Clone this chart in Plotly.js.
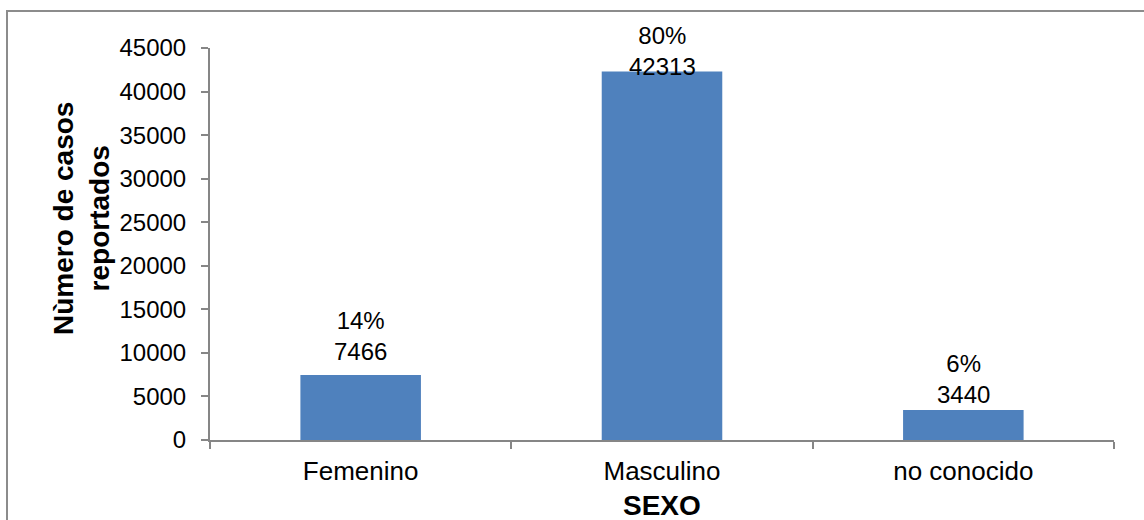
<!DOCTYPE html>
<html>
<head>
<meta charset="utf-8">
<script src="https://cdn.plot.ly/plotly-3.0.1.min.js"></script>
<style>html,body{margin:0;padding:0;background:#fff;}#chart{width:1144px;height:520px;}</style>
</head>
<body>
<div id="chart"></div>
<script>
const categories = ["Femenino", "Masculino", "no conocido"];
const casos = [7466, 42313, 3440];
const porcentajes = ["14%", "80%", "6%"];
const yTickValues = [0, 5000, 10000, 15000, 20000, 25000, 30000, 35000, 40000, 45000];
const yTickLabels = ["0", "5000", "10000", "15000", "20000", "25000", "30000", "35000", "40000", "45000"];

const labelShift = [8, -11, 0];
const FONT = "Arial, 'Liberation Sans', sans-serif";

const W = 1144, H = 520, ML = 210, MR = 30, MT = 48, MB = 80;
const PW = W - ML - MR, PH = H - MT - MB;
const px2x = p => (p - ML) / PW;
const py2y = p => (H - MB - p) / PH;

const annotations = categories.map((c, i) => ({
  x: c, y: casos[i], xref: 'x', yref: 'y',
  text: porcentajes[i] + '<br>' + casos[i],
  showarrow: false, yanchor: 'bottom', yshift: labelShift[i],
  font: {family: FONT, size: 24, color: '#000'}
}));
annotations.push({
  xref: 'paper', yref: 'paper', x: px2x(82), y: py2y(219),
  text: '<b>Nùmero de casos<br>reportados</b>', textangle: -90,
  showarrow: false, xanchor: 'center', yanchor: 'middle',
  font: {family: FONT, size: 28, color: '#000'}
});
annotations.push({
  xref: 'paper', yref: 'paper', x: px2x(662), y: py2y(505),
  text: '<b>SEXO</b>', showarrow: false, xanchor: 'center', yanchor: 'middle',
  font: {family: FONT, size: 28, color: '#000'}
});

const data = [{
  type: 'bar', x: categories, y: casos,
  marker: {color: '#4F81BD', line: {width: 0}},
  hoverinfo: 'none', cliponaxis: false
}];

const layout = {
  width: W, height: H,
  margin: {l: ML, r: MR, t: MT, b: MB, pad: 0},
  paper_bgcolor: '#fff', plot_bgcolor: '#fff',
  bargap: 0.6, showlegend: false,
  font: {family: FONT, color: '#000'},
  xaxis: {
    type: 'category', showgrid: false, zeroline: false,
    showline: true, linecolor: '#868686', linewidth: 2,
    ticks: 'outside', tickson: 'boundaries', ticklen: 7, tickcolor: '#868686', tickwidth: 2,
    tickfont: {family: FONT, size: 26, color: '#000'}, ticklabelstandoff: 7
  },
  yaxis: {
    range: [0, 45000], tickmode: 'array', tickvals: yTickValues, ticktext: yTickLabels,
    showgrid: false, zeroline: false,
    showline: true, linecolor: '#868686', linewidth: 2,
    ticks: 'outside', ticklen: 7, tickcolor: '#868686', tickwidth: 2,
    tickfont: {family: FONT, size: 24, color: '#000'}, ticklabelstandoff: 10
  },
  annotations: annotations,
  shapes: [{
    type: 'rect', xref: 'paper', yref: 'paper',
    x0: px2x(7), x1: px2x(1160), y0: py2y(540), y1: py2y(11),
    line: {color: '#8c8c8c', width: 2}, fillcolor: 'rgba(0,0,0,0)', layer: 'below'
  }]
};

Plotly.newPlot('chart', data, layout, {staticPlot: true});
</script>
</body>
</html>
